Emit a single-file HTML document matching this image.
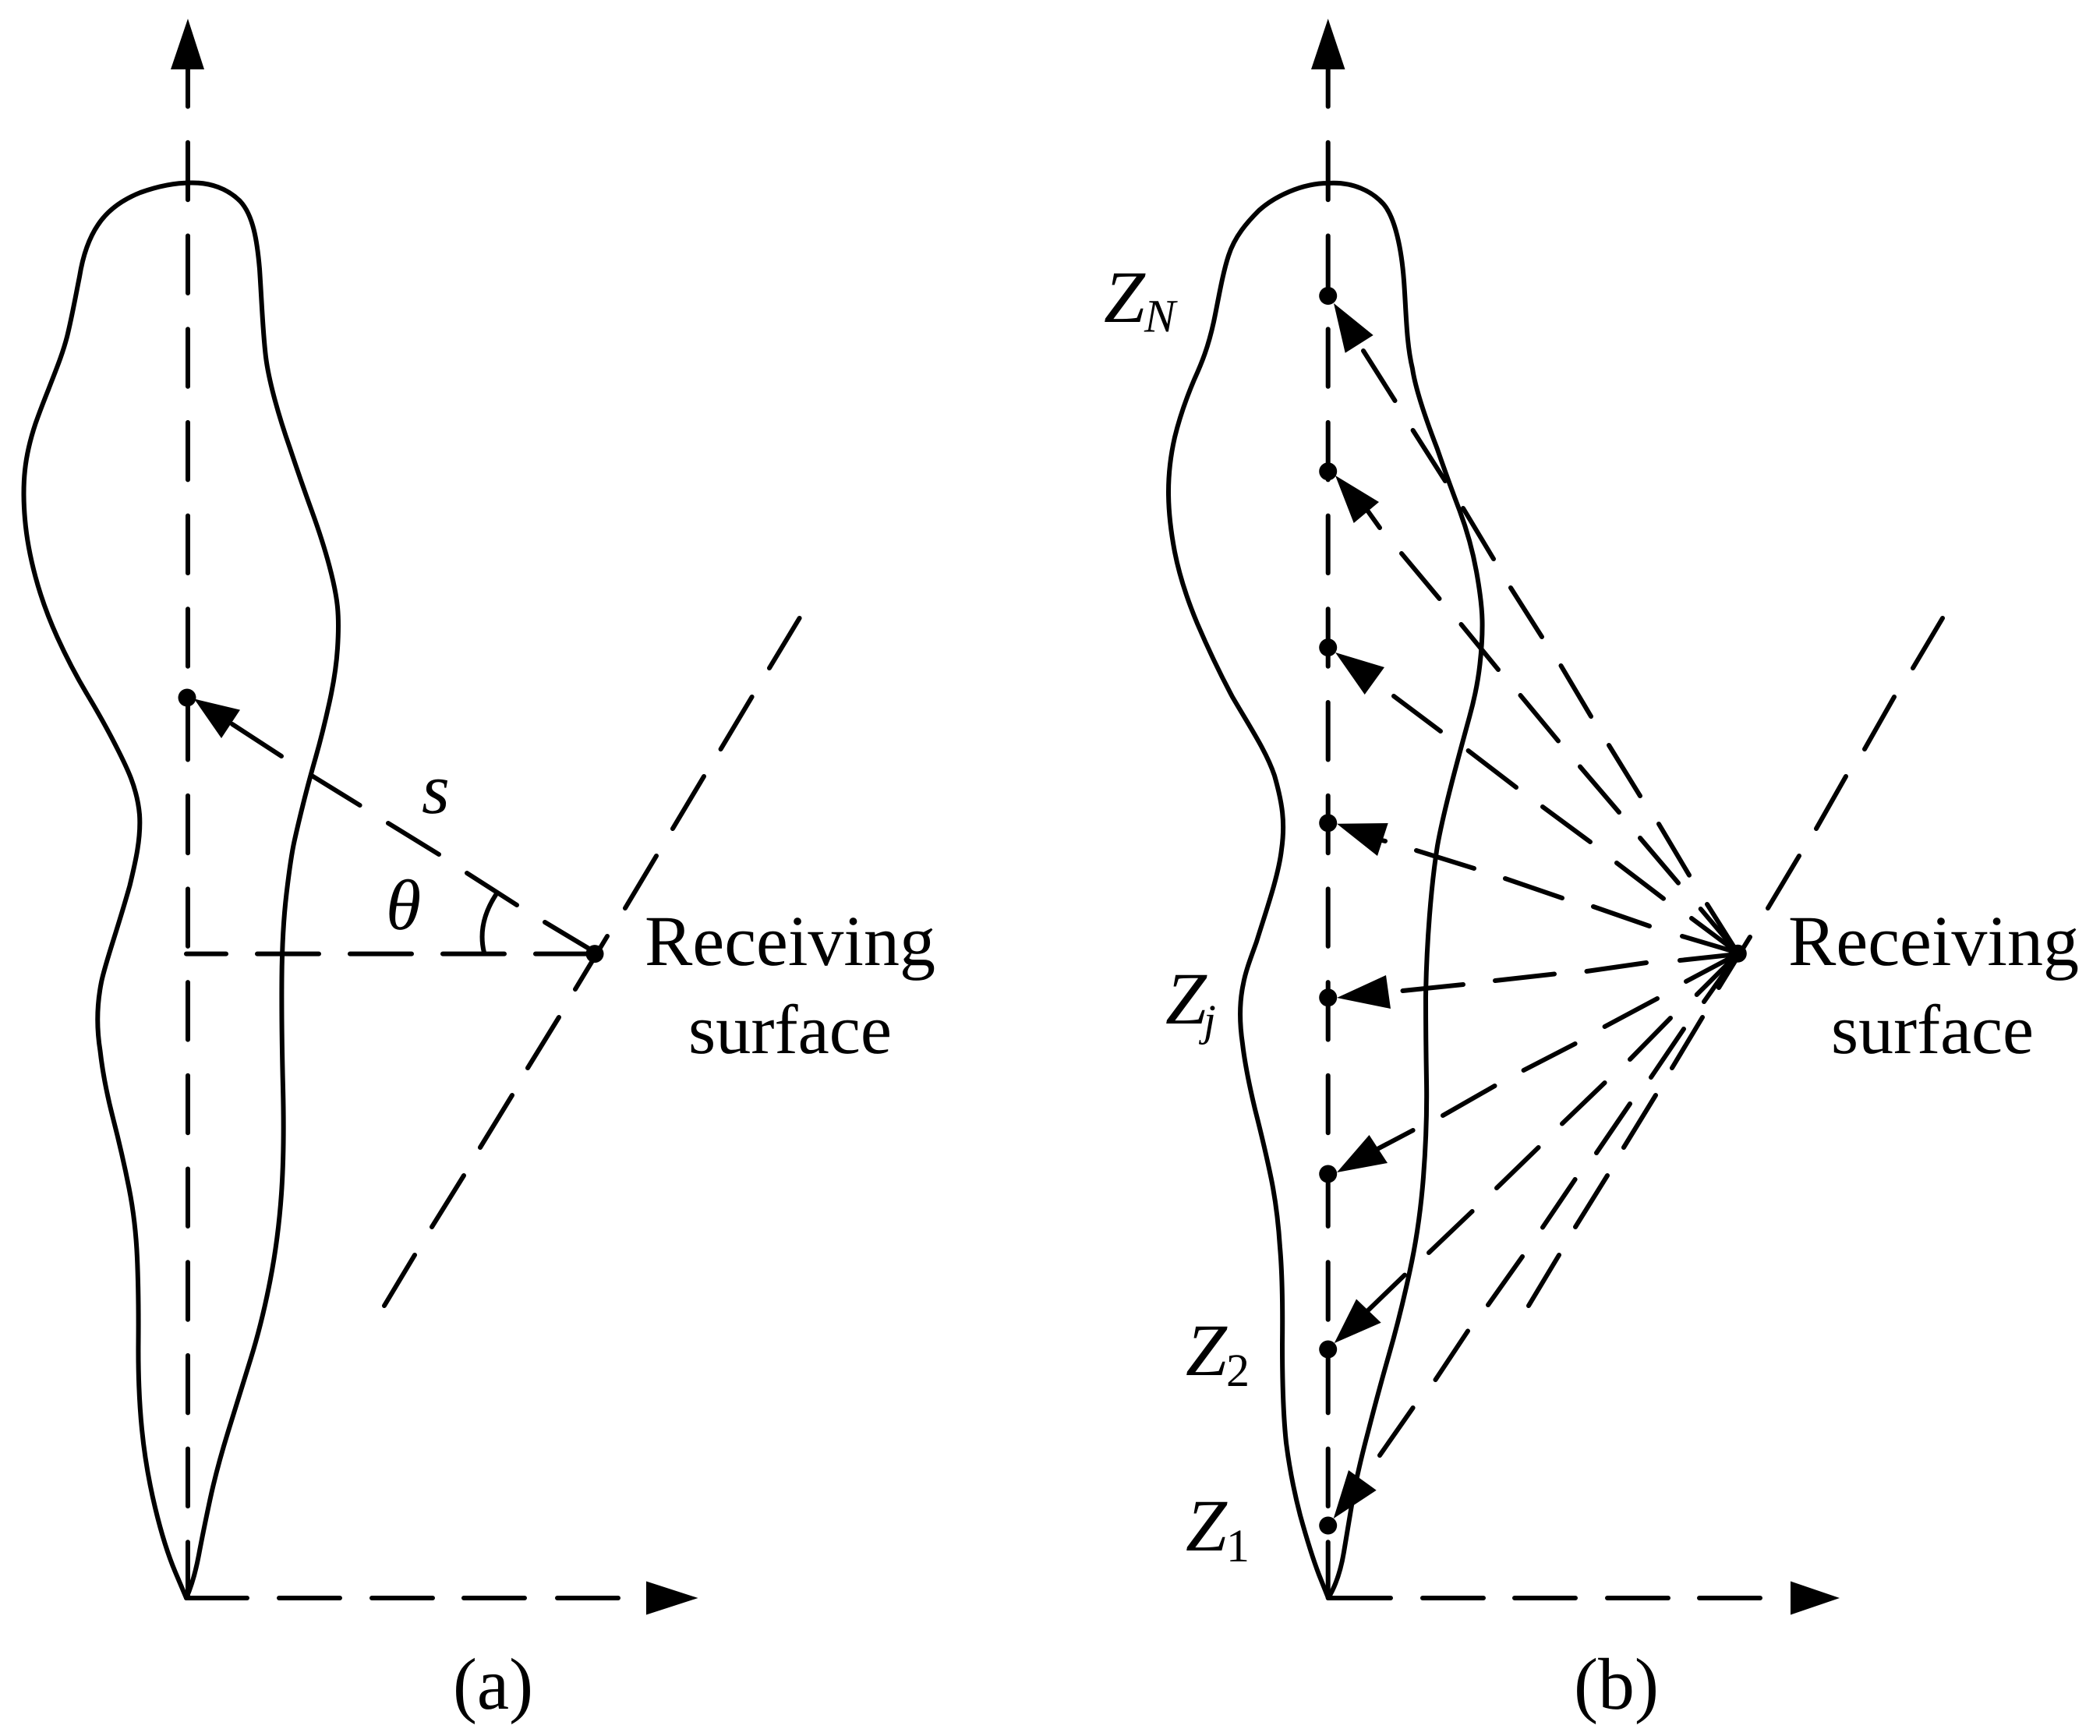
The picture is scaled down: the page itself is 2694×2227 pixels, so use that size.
<!DOCTYPE html>
<html lang="en">
<head>
<meta charset="utf-8">
<title>Diagram</title>
<style>
html,body{margin:0;padding:0;background:#fff;width:2694px;height:2227px;overflow:hidden}
svg{display:block}
text{font-family:"Liberation Serif","Times New Roman",serif;fill:#000;text-rendering:geometricPrecision}
.i{font-style:italic}
.c{fill:none;stroke:#000;stroke-width:6;stroke-linejoin:round;stroke-linecap:round}
.d{fill:none;stroke:#000;stroke-width:6;stroke-linecap:round}
</style>
</head>
<body>
<svg xmlns="http://www.w3.org/2000/svg" width="2694" height="2227" viewBox="0 0 2694 2227">
<rect width="2694" height="2227" fill="#fff"/>

<!-- Panel a contour -->
<path class="c" d="M239 2050 L225 2017 Q211 1984 199 1934 Q187 1884 182 1833.5 Q177 1783 177.5 1722 Q178 1661 176 1614 Q174 1567 165.5 1524 Q157 1481 145 1434.5 Q133 1388 128.5 1348 C124 1320 124 1290 130 1260 C135 1235 150 1195 166.5 1136 C174 1105 181 1075 179 1045 C176 1010 162 983 149 957.5 Q133 926 112 891 Q91 856 73.5 817.5 Q56 779 45.5 740 Q35 701 32 666 Q29 631 32 603 Q35 575 45.5 543.5 Q52 525 62 500 C72 474 80 455 86 432 C92 408 97 380 102 355 C106 330 113 307 126 288 C140 267 160 255 180 247 C205 238 225 234.5 245 234.5 C270 234 292 242 308 258 C325 276 330 310 333 345 C336 390 337 425 341 458 C345 490 358 535 372 575 Q386 617 400 655.5 Q414 694 422.5 726 Q431 758 433 779 Q435 800 433 831.5 Q431 863 422.5 901.5 Q414 940 405 971.5 Q396 1003 389 1031 Q382 1059 377.5 1079.5 Q373 1100 367.5 1146.5 Q362 1193 361.5 1254.5 Q361 1316 363 1395 Q365 1474 361 1531.5 Q357 1589 346.5 1643 Q336 1697 321.5 1743.5 Q307 1790 292.5 1837 Q278 1884 269.5 1923.5 Q261 1963 255 1995 Q249 2027 239 2050"/>

<!-- Panel a axes -->
<line class="d" x1="241" y1="89" x2="241" y2="2050" stroke-dasharray="73.5 46.2" stroke-dashoffset="25.9"/>
<polygon points="241,24 219,89 262,89"/>
<path class="d" d="M239 2050H317M358 2050H436M477 2050H555M595 2050H673M715 2050H793"/>
<polygon points="829,2028.5 895.5,2050 829,2071.5"/>

<!-- Panel a horizontal and ray -->
<path class="d" d="M239 1223.6H290M330 1223.6H409M449 1223.6H528M568 1223.6H647M687 1223.6H763"/>
<path class="d" d="M298 929L361 970M400 995L461.6 1033M498 1056L563 1096M599 1120L663 1161M699 1183L759 1219"/>
<polygon points="249,896.5 308,910.6 284,947"/>
<circle cx="240" cy="895" r="11.5"/>
<circle cx="763" cy="1223.6" r="11.5"/>
<!-- Panel a surface -->
<path class="d" d="M1025.6 793L987 857M964.6 894L924.6 961M903 996L863 1063M842 1098L802 1165M779 1201L738 1269M717 1305L677 1370M657 1405L616 1472M595 1508L554 1574M532 1610L493 1675"/>
<path class="c" d="M636 1148Q612 1185 621 1222"/>

<!-- Panel a text -->
<text class="i" x="541" y="1043" font-size="92">s</text>
<text class="i" x="495" y="1192" font-size="92">θ</text>
<text x="827" y="1238" font-size="92" textLength="373" lengthAdjust="spacingAndGlyphs">Receiving</text>
<text x="883" y="1351" font-size="90" textLength="261" lengthAdjust="spacingAndGlyphs">surface</text>
<text x="581" y="2192" font-size="94" textLength="103" lengthAdjust="spacingAndGlyphs">(a)</text>

<!-- Panel b contour -->
<path class="c" d="M1704 2050 L1692 2020 Q1681 1991 1668 1944 Q1656 1898 1650 1851 Q1645 1805 1645 1725 Q1646 1646 1642 1600 Q1639 1553 1631 1513 Q1623 1474 1610 1423 Q1598 1373 1594 1339 C1590 1312 1590 1285 1595 1262 C1598 1245 1606 1225 1612 1208 C1622 1175 1640 1125 1644 1090 C1649 1055 1645 1030 1635 995 C1625 965 1605 935 1581 894 Q1557 849 1536 800 Q1515.5 751 1507 708 Q1499 666 1499 631 Q1499 596 1507 561 Q1515.5 526 1532 487 C1542 465 1550 445 1557 413 C1562 390 1568 352 1576 328 C1584 303 1600 285 1615 270 C1635 252 1670 235 1704 235 C1735 233 1760 245 1775 262 C1790 280 1798 320 1801 360 C1804 400 1804 440 1812 473 C1816 500 1830 540 1843.5 575 Q1858 617 1872.5 655 Q1887 694 1894 733 Q1901 772 1901.5 796 Q1902 821 1898.5 852 Q1895 884 1885 920 C1870 975 1852 1040 1844 1085 C1836 1135 1830 1210 1829 1279 Q1829 1330 1830 1387 Q1831 1445 1826 1510 Q1821 1574 1808.5 1631 Q1796 1689 1781.5 1739 Q1767 1790 1755 1837 Q1742.5 1884 1736 1919 Q1730 1955 1724 1991 Q1718 2027 1704 2050"/>

<!-- Panel b axes -->
<line class="d" x1="1703.7" y1="89" x2="1703.7" y2="2050" stroke-dasharray="73.5 46.2" stroke-dashoffset="25.9"/>
<polygon points="1703.7,24 1682,89 1725.5,89"/>
<path class="d" d="M1704 2050H1784M1825 2050H1903M1943 2050H2021M2062 2050H2140M2180 2050H2258"/>
<polygon points="2297,2028.5 2360,2050 2297,2071.5"/>

<!-- Panel b surface -->
<path class="d" d="M2492 793L2454 857M2430 894L2392 961M2368 996L2330 1063M2308 1098L2268 1165M2245 1202L2205 1267M2184 1305L2145 1370M2124 1405L2083 1472M2062 1508L2021 1574M2000 1610L1961 1675"/>

<!-- Panel b rays -->
<path class="d" d="M1749 450L1789.5 514M1812.6 552L1854 617M1877 652L1916 717M1938 754L1978 817M2002.5 854L2041 919M2064 956L2104 1021M2128 1057L2167 1122.7M2190 1160L2229 1222"/>
<path class="d" d="M1755 656L1770 677M1798 710L1846.5 768M1874.5 801L1922 859M1950.5 892L1999 950.5M2027 983.5L2077 1042M2104 1075L2153 1132.7M2181.7 1166L2229 1222"/>
<path class="d" d="M1788 893L1848 938M1883.6 963L1945 1010M1979 1035L2040 1080M2074 1107L2134 1152.7M2170 1178L2229 1222"/>
<path class="d" d="M1760 1075L1777 1079M1817 1091L1891 1114M1931 1127L2004 1152M2044 1163L2116 1188M2158 1201L2229 1222"/>
<path class="d" d="M1799.5 1271L1877 1263M1918 1258L1994 1249.5M2035.5 1246L2112 1235M2155 1232L2229 1224"/>
<path class="d" d="M1767 1474L1812.6 1450M1851 1431L1917.5 1393M1954.6 1373L2020.6 1339M2058.6 1317L2126 1281M2163 1259L2229 1224"/>
<path class="d" d="M1755 1681L1802 1635.6M1833 1607L1888.6 1554M1920 1524L1973.6 1472M2004 1441.5L2058.6 1389M2091 1359L2143 1306M2176.7 1276L2229 1224"/>
<path class="d" d="M1770 1867L1812.6 1806M1841.5 1770L1883 1707.5M1909 1674L1953 1612M1979 1574.5L2020.6 1513M2048 1479L2091 1416M2118 1382L2160 1320M2186 1285L2229 1224"/>

<!-- Panel b arrowheads -->
<polygon points="1711,389 1761.7,430 1725.7,452.7"/>
<polygon points="1713,610 1769,644 1736.7,671"/>
<polygon points="1713,837 1776,856 1750.7,891"/>
<polygon points="1715,1056.7 1780.7,1056 1767,1098"/>
<polygon points="1715,1280 1778,1251 1784,1294"/>
<polygon points="1715,1504 1756.5,1456 1780,1492"/>
<polygon points="1711.7,1723 1740,1666.5 1771.7,1696.7"/>
<polygon points="1710.7,1948 1730,1886 1765.7,1911.7"/>

<!-- Panel b dots -->
<circle cx="1703.7" cy="379.5" r="11.5"/>
<circle cx="1703.7" cy="604.7" r="11.5"/>
<circle cx="1703.7" cy="830.6" r="11.5"/>
<circle cx="1703.7" cy="1055.8" r="11.5"/>
<circle cx="1703.7" cy="1279.7" r="11.5"/>
<circle cx="1703.7" cy="1506" r="11.5"/>
<circle cx="1703.7" cy="1731" r="11.5"/>
<circle cx="1703.7" cy="1957" r="11.5"/>
<circle cx="2229.3" cy="1223.3" r="11.5"/>

<!-- Panel b text -->
<text class="i" x="1416" y="413" font-size="95">Z</text>
<text class="i" x="1468" y="425.5" font-size="60">N</text>
<text class="i" x="1495" y="1313" font-size="95">Z</text>
<text class="i" x="1544" y="1328" font-size="57">j</text>
<text class="i" x="1521" y="1764" font-size="95">Z</text>
<text x="1573" y="1778" font-size="60">2</text>
<text class="i" x="1521" y="1989" font-size="95">Z</text>
<text x="1573" y="2003" font-size="60">1</text>
<text x="2294" y="1238" font-size="92" textLength="373" lengthAdjust="spacingAndGlyphs">Receiving</text>
<text x="2349" y="1351" font-size="90" textLength="260" lengthAdjust="spacingAndGlyphs">surface</text>
<text x="2019" y="2192" font-size="94" textLength="109" lengthAdjust="spacingAndGlyphs">(b)</text>
</svg>
</body>
</html>
